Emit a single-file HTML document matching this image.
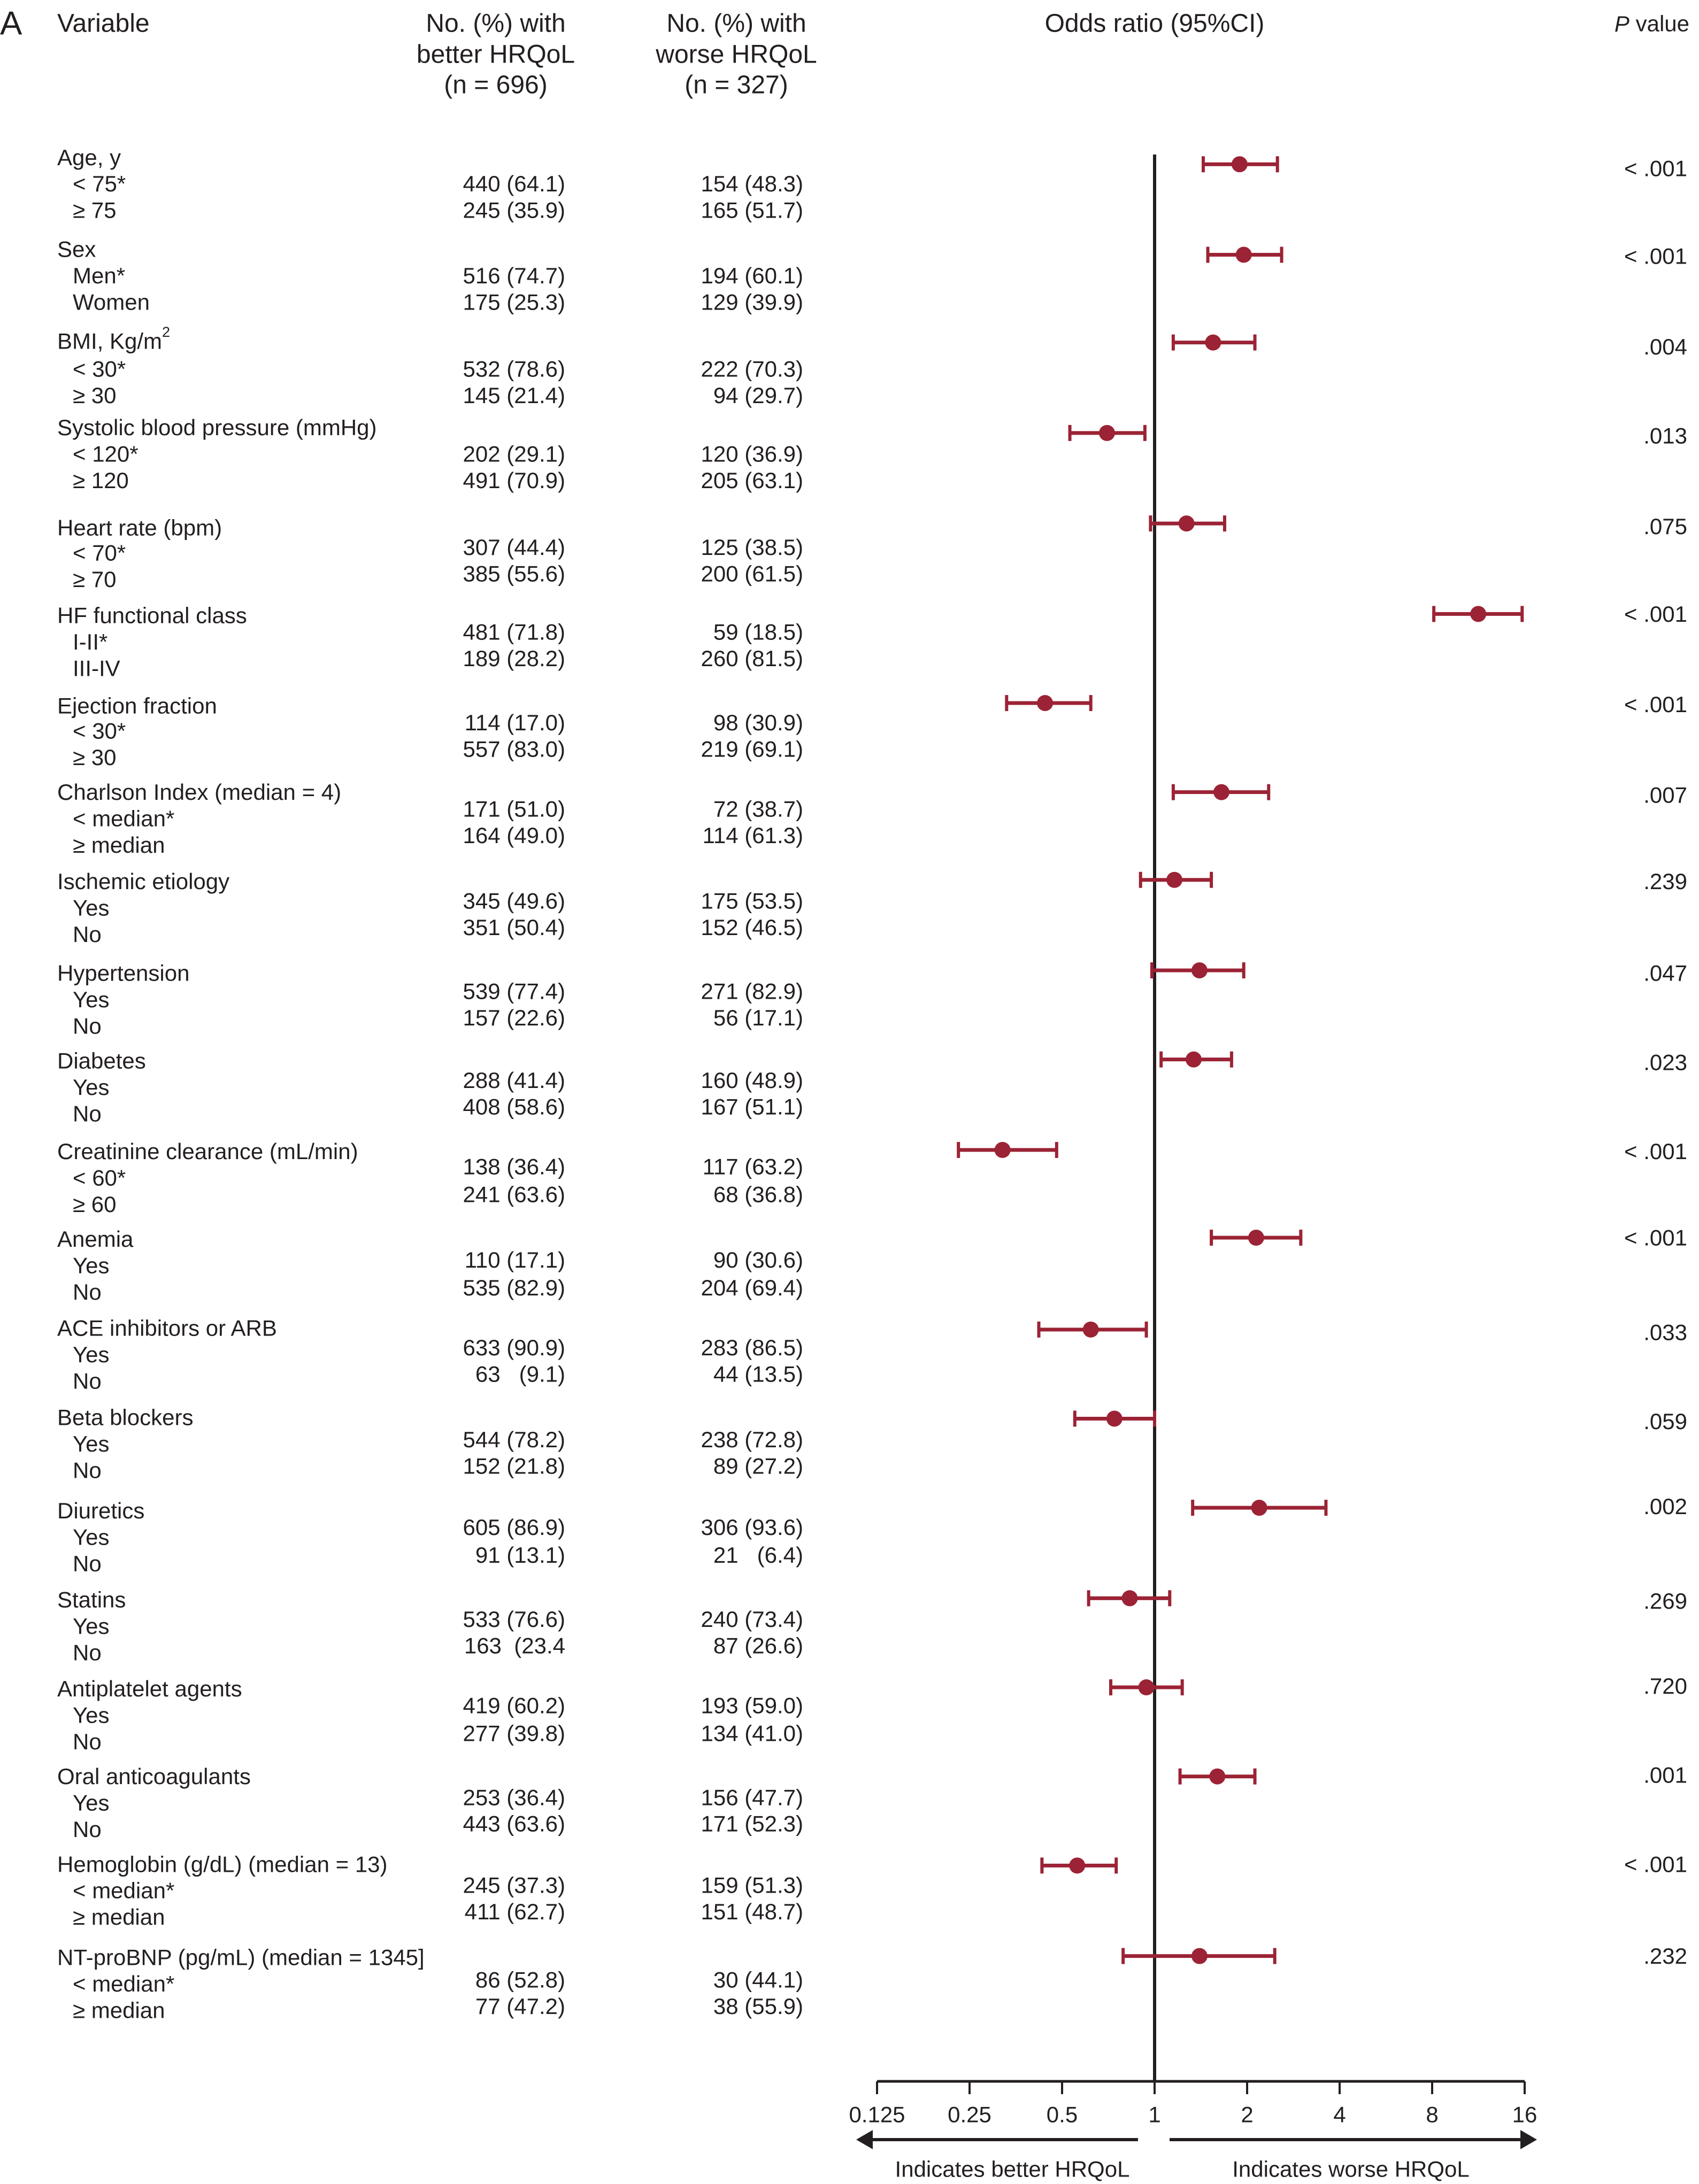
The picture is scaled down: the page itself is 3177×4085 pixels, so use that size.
<!DOCTYPE html>
<html><head><meta charset="utf-8"><style>
html,body{margin:0;padding:0;background:#fff;}
svg{display:block;font-family:"Liberation Sans",Arial,sans-serif;}
text{fill:#231f20;white-space:pre;}
</style></head><body>
<svg id="chart" width="3177" height="4085" viewBox="0 0 3177 4085" xmlns="http://www.w3.org/2000/svg">
<g id="hdr" font-size="48" dominant-baseline="central">
 <text x="0" y="44" font-size="62">A</text>
 <text x="107" y="44">Variable</text>
 <text x="927" y="44" text-anchor="middle">No. (%) with</text>
 <text x="927" y="102" text-anchor="middle">better HRQoL</text>
 <text x="927" y="159" text-anchor="middle">(n = 696)</text>
 <text x="1377" y="44" text-anchor="middle">No. (%) with</text>
 <text x="1377" y="102" text-anchor="middle">worse HRQoL</text>
 <text x="1377" y="159" text-anchor="middle">(n = 327)</text>
 <text x="2159" y="44" text-anchor="middle">Odds ratio (95%CI)</text>
 <text x="3159" y="44" text-anchor="end" font-size="42"><tspan font-style="italic">P</tspan> value</text>
</g>
<g id="rows"></g>
<g id="marks"></g>
<g id="axis"></g>
</svg>
<script>
const S = 2.604;
// data arrays
const groups = ["Age, y","Sex","BMI, Kg/m","Systolic blood pressure (mmHg)","Heart rate (bpm)","HF functional class","Ejection fraction","Charlson Index (median = 4)","Ischemic etiology","Hypertension","Diabetes","Creatinine clearance (mL/min)","Anemia","ACE inhibitors or ARB","Beta blockers","Diuretics","Statins","Antiplatelet agents","Oral anticoagulants","Hemoglobin (g/dL) (median = 13)","NT-proBNP (pg/mL) (median = 1345]"];
const subA = ["< 75*","Men*","< 30*","< 120*","< 70*","I-II*","< 30*","< median*","Yes","Yes","Yes","< 60*","Yes","Yes","Yes","Yes","Yes","Yes","Yes","< median*","< median*"];
const subB = ["\u2265 75","Women","\u2265 30","\u2265 120","\u2265 70","III-IV","\u2265 30","\u2265 median","No","No","No","\u2265 60","No","No","No","No","No","No","No","\u2265 median","\u2265 median"];
const betterA = ["440 (64.1)","516 (74.7)","532 (78.6)","202 (29.1)","307 (44.4)","481 (71.8)","114 (17.0)","171 (51.0)","345 (49.6)","539 (77.4)","288 (41.4)","138 (36.4)","110 (17.1)","633 (90.9)","544 (78.2)","605 (86.9)","533 (76.6)","419 (60.2)","253 (36.4)","245 (37.3)","86 (52.8)"];
const betterB = ["245 (35.9)","175 (25.3)","145 (21.4)","491 (70.9)","385 (55.6)","189 (28.2)","557 (83.0)","164 (49.0)","351 (50.4)","157 (22.6)","408 (58.6)","241 (63.6)","535 (82.9)","63   (9.1)","152 (21.8)","91 (13.1)","163  (23.4","277 (39.8)","443 (63.6)","411 (62.7)","77 (47.2)"];
const worseA = ["154 (48.3)","194 (60.1)","222 (70.3)","120 (36.9)","125 (38.5)","59 (18.5)","98 (30.9)","72 (38.7)","175 (53.5)","271 (82.9)","160 (48.9)","117 (63.2)","90 (30.6)","283 (86.5)","238 (72.8)","306 (93.6)","240 (73.4)","193 (59.0)","156 (47.7)","159 (51.3)","30 (44.1)"];
const worseB = ["165 (51.7)","129 (39.9)","94 (29.7)","205 (63.1)","200 (61.5)","260 (81.5)","219 (69.1)","114 (61.3)","152 (46.5)","56 (17.1)","167 (51.1)","68 (36.8)","204 (69.4)","44 (13.5)","89 (27.2)","21   (6.4)","87 (26.6)","134 (41.0)","171 (52.3)","151 (48.7)","38 (55.9)"];
const pvals = ["< .001","< .001",".004",".013",".075","< .001","< .001",".007",".239",".047",".023","< .001","< .001",".033",".059",".002",".269",".720",".001","< .001",".232"];
const orVals = [1.89,1.95,1.55,0.70,1.27,11.3,0.44,1.65,1.16,1.40,1.34,0.32,2.14,0.62,0.74,2.19,0.83,0.94,1.60,0.56,1.40];
const ciLow  = [1.44,1.49,1.15,0.53,0.97,8.1,0.33,1.15,0.90,0.98,1.05,0.23,1.53,0.42,0.55,1.33,0.61,0.72,1.21,0.43,0.79];
const ciHigh = [2.51,2.59,2.12,0.93,1.69,15.7,0.62,2.35,1.53,1.95,1.78,0.48,2.99,0.94,1.00,3.61,1.12,1.23,2.12,0.75,2.46];
const ticks = [0.125,0.25,0.5,1,2,4,8,16];
const tickLabels = ["0.125","0.25","0.5","1","2","4","8","16"];

// layout (row positions, reference-image units)
const headY = [113,179,245,307,379,442,507,569,633,699,762,827,890,954,1018,1085,1149,1213,1276,1339,1406];
const subYA = [132,198,265,326,397,461,525,588,652,718,781,846,909,973,1037,1104,1168,1232,1295,1358,1425];
const subYB = [151,217,284,345,416,480,544,607,671,737,800,865,928,992,1056,1123,1187,1251,1314,1377,1444];
const numYA = [132,198,265,326,393,454,519,581,647,712,776,838,905,968,1034,1097,1163,1225,1291,1354,1422];
const numYB = [151,217,284,345,412,473,538,600,666,731,795,858,925,987,1053,1117,1182,1245,1310,1373,1441];
const ciY   = [118,183,246,311,376,441,505,569,632,697,761,826,889,955,1019,1083,1148,1212,1276,1340,1405];
const pY    = [121,184,249,313,378,441,506,571,633,699,763,827,889,957,1021,1082,1150,1211,1275,1339,1405];

const NS = "http://www.w3.org/2000/svg";
const X1 = 2159, PER = 173;
function xs(v){ return X1 + PER*Math.log2(v); }
function mk(tag, attrs, parent){ const e=document.createElementNS(NS,tag); for(const k in attrs) e.setAttribute(k,attrs[k]); parent.appendChild(e); return e; }
function txt(parent,x,y,s,anchor){ const t=mk('text',{x:x,y:y,'font-size':42,'dominant-baseline':'central','text-anchor':anchor||'start'},parent); t.textContent=s; return t; }

const rows=document.getElementById('rows');
const marks=document.getElementById('marks');
const axis=document.getElementById('axis');
const RED="#9b2335";

const ref=mk('line',{x1:X1,x2:X1,y1:289,y2:3893,stroke:'#231f20','stroke-width':6},marks);



groups.forEach((g,i)=>{
  const grp=mk('g',{},rows);
  
  
  const h=txt(grp,107,headY[i]*S,g);
  if(i===2){ const sp=mk('tspan',{'font-size':27,dy:-17},h); sp.textContent='2'; }
  
  
  const a=txt(grp,136,subYA[i]*S,subA[i]);
  
  
  const b=txt(grp,136,subYB[i]*S,subB[i]);
  
  
  const c1=txt(grp,1057,numYA[i]*S,betterA[i],'end');
  
  
  const c2=txt(grp,1057,numYB[i]*S,betterB[i],'end');
  
  
  const w1=txt(grp,1502,numYA[i]*S,worseA[i],'end');
  
  
  const w2=txt(grp,1502,numYB[i]*S,worseB[i],'end');
  
  
  const p=txt(grp,3155,pY[i]*S,pvals[i],'end');
  
  

  const y=ciY[i]*S;
  const m=mk('g',{},marks);
  
  
  mk('line',{x1:xs(ciLow[i]),x2:xs(ciHigh[i]),y1:y,y2:y,stroke:RED,'stroke-width':7},m);
  mk('line',{x1:xs(ciLow[i]),x2:xs(ciLow[i]),y1:y-15,y2:y+15,stroke:RED,'stroke-width':6},m);
  mk('line',{x1:xs(ciHigh[i]),x2:xs(ciHigh[i]),y1:y-15,y2:y+15,stroke:RED,'stroke-width':6},m);
  mk('circle',{cx:xs(orVals[i]),cy:y,r:15,fill:RED},m);
});

const AY=3893;
const al=mk('line',{x1:xs(ticks[0]),x2:xs(ticks[ticks.length-1]),y1:AY,y2:AY,stroke:'#231f20','stroke-width':5},axis);


ticks.forEach((t,i)=>{
  const tk=mk('line',{x1:xs(t),x2:xs(t),y1:AY,y2:AY+24,stroke:'#231f20','stroke-width':4},axis);
  
  
  const lb=txt(axis,xs(t),3955,tickLabels[i],'middle');
  
  
});
const la=mk('g',{},axis);


mk('line',{x1:1625,x2:2128,y1:4002,y2:4002,stroke:'#231f20','stroke-width':6},la);
mk('polygon',{points:'1601,4002 1632,3984 1632,4020',fill:'#231f20'},la);
const ra=mk('g',{},axis);


mk('line',{x1:2187,x2:2850,y1:4002,y2:4002,stroke:'#231f20','stroke-width':6},ra);
mk('polygon',{points:'2874,4002 2843,3984 2843,4020',fill:'#231f20'},ra);
const bl=txt(axis,1893,4057,'Indicates better HRQoL','middle');


const wl=txt(axis,2526,4057,'Indicates worse HRQoL','middle');


</script>
</body></html>
